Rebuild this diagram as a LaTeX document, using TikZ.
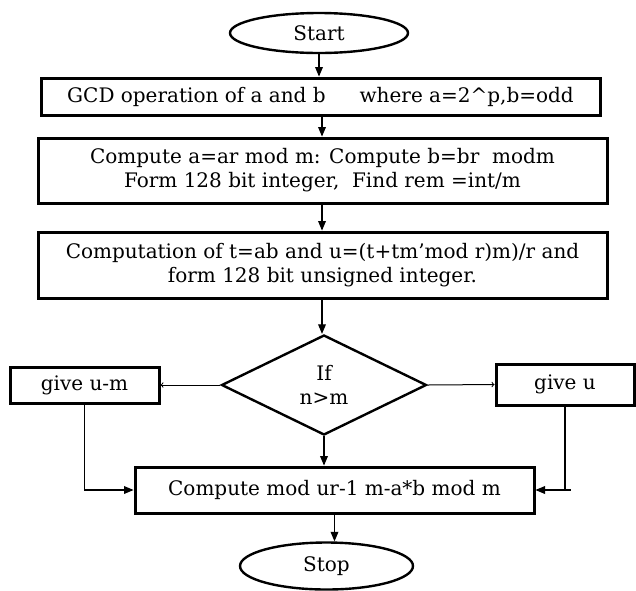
\documentclass[tikz,border=0pt]{standalone}
\usepackage{fontspec}
\setmainfont{DejaVu Serif}
\usetikzlibrary{shapes.geometric}
\usetikzlibrary{arrows}

\begin{document}
\begin{tikzpicture}[x=1pt,y=-1pt,font=\fontsize{20}{24}\selectfont,
    stepbox/.style={draw,line width=3pt,rectangle,align=center,inner sep=0pt},
    term/.style={draw,line width=2.4pt,ellipse,inner sep=0pt},
    test/.style={draw,line width=2.4pt,diamond,aspect=2,inner sep=0pt,align=center},
    flow/.style={line width=1.2pt,-{triangle 45[scale=1.6]}},
    branch/.style={line width=1pt,-{to[scale=1.6]}}]
\useasboundingbox (0,0) rectangle (636,590);
\edef\mx{322} 

\node[term,minimum width=178pt,minimum height=40pt] (start) at (319,33) {Start};
\node[stepbox,minimum width=559pt,minimum height=37pt] (gcd) at (320.5,96.5) {GCD operation of a and b\hspace{34pt}where a=2\textasciicircum p,b=odd};
\node[stepbox,minimum width=569pt,minimum height=65pt] (conv) at (\mx.5,170.5) {Compute a=ar mod m: Compute b=br~ modm\\Form 128 bit integer,~ Find rem =int/m};
\node[stepbox,minimum width=569pt,minimum height=66pt] (mont) at (\mx.5,265) {Computation of t=ab and u=(t+tm'mod r)m)/r and\\form 128 bit unsigned integer.};

\node[test,minimum width=205pt,minimum height=100pt] (cmp) at (324,385) {If\\n>m};
\node[stepbox,minimum width=149pt,minimum height=36pt] (giveum) at (84.5,385) {give u-m};
\node[stepbox,minimum width=138pt,minimum height=41pt] (giveu) at (565,384.5) {give u};

\node[stepbox,minimum width=399pt,minimum height=46pt] (final) at (334.5,490) {Compute mod ur-1 m-a*b mod m};
\node[term,minimum width=173pt,minimum height=47pt] (stop) at (326.5,566) {Stop};

\draw[flow] (start.south) -- (start.south |- gcd.north);
\draw[flow] (\mx,0 |- gcd.south) -- (\mx,0 |- conv.north);
\draw[flow] (\mx,0 |- conv.south) -- (\mx,0 |- mont.north);
\draw[flow] (\mx,0 |- mont.south) -- (\mx,0 |- cmp.north);

\draw[branch] (cmp.west) -- (giveum.east);
\draw[branch] (cmp.east) -- (giveu.west);
\draw[flow] (cmp.south) -- (cmp.south |- final.north);

\draw[flow] (giveum.south) |- (final.west);
\draw[line width=1.2pt] (giveu.south) -- (giveu.south |- final.east) -- ++(6,0);
\draw[flow] (giveu.south |- final.east) -- (final.east);

\draw[flow] (final.south) -- (final.south |- stop.north);
\end{tikzpicture}
\end{document}
